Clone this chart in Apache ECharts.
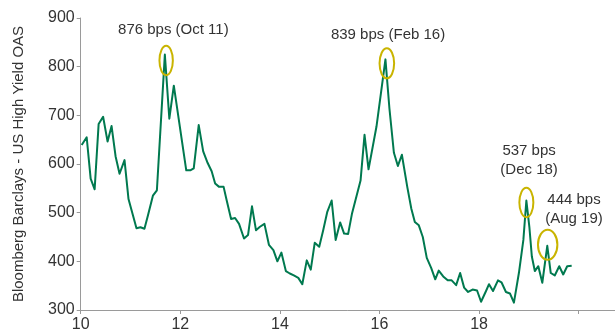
<!DOCTYPE html>
<html>
<head>
<meta charset="utf-8">
<style>
  html, body { margin: 0; padding: 0; background: #fff; }
  #chart { width: 615px; height: 333px; }
</style>
<script src="https://cdn.jsdelivr.net/npm/echarts@6/dist/echarts.min.js"></script>
</head>
<body>
<div id="chart"></div>
<script>
// Bloomberg Barclays US High Yield OAS (bps), monthly, x = year (2-digit, fractional)
const years = [
  10.02, 10.12, 10.20, 10.28, 10.36, 10.45, 10.54, 10.62, 10.70, 10.78, 10.88, 10.96,
  11.12, 11.20, 11.28, 11.35, 11.45, 11.53, 11.69, 11.78, 11.87,
  12.12, 12.20, 12.27, 12.37, 12.46, 12.55, 12.63, 12.70, 12.78, 12.87, 12.93,
  13.02, 13.10, 13.18, 13.28, 13.36, 13.44, 13.52, 13.60, 13.69, 13.78, 13.87, 13.95,
  14.03, 14.12, 14.20, 14.28, 14.37, 14.45, 14.54, 14.62, 14.70, 14.79, 14.87, 14.95,
  15.04, 15.12, 15.21, 15.29, 15.37, 15.45, 15.62, 15.70, 15.78, 15.94,
  16.12, 16.20, 16.29, 16.37, 16.45, 16.56, 16.64, 16.71, 16.79, 16.87, 16.95,
  17.04, 17.12, 17.19, 17.28, 17.37, 17.45, 17.54, 17.62, 17.70, 17.78, 17.87, 17.96,
  18.04, 18.14, 18.20, 18.28, 18.38, 18.45, 18.54, 18.62, 18.70, 18.80, 18.89, 18.95,
  19.01, 19.06, 19.12, 19.19, 19.27, 19.37, 19.44, 19.52, 19.61, 19.69, 19.77, 19.86
];
const spreads = [
  639, 655, 570, 548, 682, 697, 646, 678, 616, 580, 608, 528,
  468, 470, 467, 494, 535, 546, 825, 693, 761,
  587, 587, 591, 680, 626, 602, 585, 560, 553, 553, 526,
  487, 489, 477, 447, 454, 513, 464, 471, 477, 434, 423, 400,
  418, 380, 375, 371, 366, 353, 402, 383, 438, 430, 464, 501,
  525, 444, 480, 457, 456, 499, 566, 660, 589, 677,
  815, 714, 623, 596, 619, 552, 508, 481, 474, 450, 407,
  386, 363, 381, 369, 361, 361, 351, 376, 346, 337, 342, 340,
  317, 339, 353, 339, 361, 357, 337, 334, 315, 376, 444, 525,
  471, 410, 380, 390, 356, 432, 376, 371, 390, 373, 390, 391
];

// Called-out peaks (index into the series) and their captions
const calloutIndex = [18, 66, 100, 106];
const calloutText = [
  '876 bps (Oct 11)',
  '839 bps (Feb 16)',
  '537 bps\n(Dec 18)',
  '444 bps\n(Aug 19)'
];

// Axis ticks and labels
const yTicks = [300, 400, 500, 600, 700, 800, 900];
const xTickValues = [10, 12, 14, 16, 18, 20];
const xLabelValues = [10, 12, 14, 16, 18];

const yAxisTitle = 'Bloomberg Barclays - US High Yield OAS';

// Placement of each ellipse and caption relative to its peak (pixels)
const calloutLayout = [
  { ex: 1.3, ey: 6,  rx: 6.7, ry: 14.7, tx: 8.5,  ty: -25 },
  { ex: 1.4, ey: 4,  rx: 7.3, ry: 15,   tx: 2.6,  ty: -25 },
  { ex: 0,   ey: 2,  rx: 7,   ry: 14.7, tx: 2.7,  ty: -40.5 },
  { ex: 0.4, ey: -1, rx: 9.7, ry: 15,   tx: 26.7, ty: -36.5 }
];

const FONT = '"Liberation Sans", Arial, Helvetica, sans-serif';
const TEXT = '#333333';
const AXIS = '#9a9a9a';
const GREEN = '#00794f';
const GOLD = '#c9b400';

const chart = echarts.init(document.getElementById('chart'), null, { renderer: 'canvas' });

chart.setOption({
  animation: false,
  backgroundColor: '#ffffff',
  textStyle: { fontFamily: FONT },
  grid: { left: 80.7, right: 0, top: 18, bottom: 18.7, containLabel: false },
  xAxis: {
    type: 'value',
    min: 10,
    max: 20.73,
    axisLine: { show: true, lineStyle: { color: AXIS, width: 1 } },
    axisTick: { show: true, length: 4, lineStyle: { color: AXIS }, customValues: xTickValues },
    axisLabel: {
      show: true, color: TEXT, fontSize: 16, fontFamily: FONT, margin: 7,
      customValues: xLabelValues,
      formatter: v => String(v)
    },
    splitLine: { show: false }
  },
  yAxis: {
    type: 'value',
    min: yTicks[0],
    max: yTicks[yTicks.length - 1],
    interval: 100,
    name: yAxisTitle,
    nameLocation: 'middle',
    nameGap: 54,
    nameTextStyle: { color: TEXT, fontSize: 15, fontFamily: FONT },
    axisLine: { show: true, lineStyle: { color: AXIS, width: 1 } },
    axisTick: { show: true, length: 4, lineStyle: { color: AXIS } },
    axisLabel: { color: TEXT, fontSize: 16, fontFamily: FONT, margin: 6 },
    splitLine: { show: false }
  },
  series: [
    {
      type: 'line',
      data: years.map((y, i) => [y, spreads[i]]),
      showSymbol: false,
      symbol: 'none',
      lineStyle: { color: GREEN, width: 2, join: 'round' },
      z: 2
    },
    {
      type: 'custom',
      clip: false,
      z: 3,
      data: calloutIndex.map((idx, k) => [years[idx], spreads[idx], k]),
      renderItem: function (params, api) {
        const k = api.value(2);
        const p = api.coord([api.value(0), api.value(1)]);
        const L = calloutLayout[k];
        return {
          type: 'group',
          children: [
            {
              type: 'ellipse',
              shape: { cx: p[0] + L.ex, cy: p[1] + L.ey, rx: L.rx, ry: L.ry },
              style: { fill: 'none', stroke: GOLD, lineWidth: 2 }
            },
            {
              type: 'text',
              x: p[0] + L.tx,
              y: p[1] + L.ty,
              style: {
                text: calloutText[k],
                fill: TEXT,
                font: '15px ' + FONT,
                align: 'center',
                verticalAlign: 'middle',
                lineHeight: 19
              }
            }
          ]
        };
      }
    }
  ]
});
</script>
</body>
</html>
